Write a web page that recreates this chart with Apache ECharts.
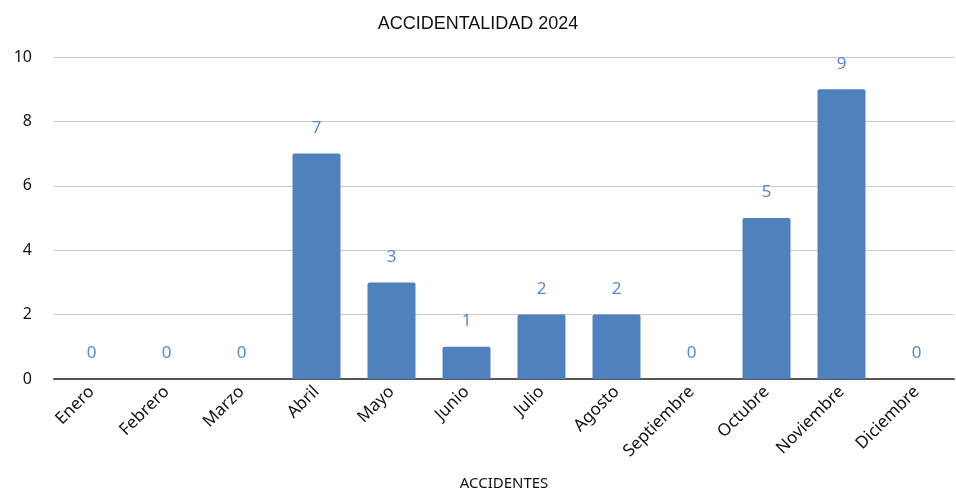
<!DOCTYPE html>
<html>
<head>
<meta charset="utf-8">
<script src="https://cdn.jsdelivr.net/npm/echarts@6/dist/echarts.min.js"></script>
<style>
  html, body { margin: 0; padding: 0; background: #fff; }
  #chart { width: 956px; height: 491px; }
</style>
</head>
<body>
<div id="chart"></div>
<script>
  const months = ['Enero', 'Febrero', 'Marzo', 'Abril', 'Mayo', 'Junio', 'Julio',
    'Agosto', 'Septiembre', 'Octubre', 'Noviembre', 'Diciembre']
  const accidents = [0, 0, 0, 7, 3, 1, 2, 2, 0, 5, 9, 0]
  const yTicks = [0, 2, 4, 6, 8, 10]

  const chart = echarts.init(document.getElementById('chart'))
  chart.setOption({
    animation: false,
    title: {
      text: 'ACCIDENTALIDAD 2024',
      left: 'center',
      top: 10,
      textStyle: {
        fontFamily: '"Liberation Sans", sans-serif',
        fontWeight: 'normal',
        fontSize: 18,
        color: '#111'
      }
    },
    grid: {
      left: 54,
      right: 2,
      top: 57,
      bottom: 112,
      outerBoundsMode: 'none'
    },
    xAxis: {
      type: 'category',
      data: months,
      name: 'ACCIDENTES',
      nameLocation: 'middle',
      nameGap: 97,
      nameTextStyle: { fontFamily: 'Noto Sans', fontSize: 15, color: '#111' },
      axisTick: { show: false },
      axisLine: { lineStyle: { color: '#555', width: 2 } },
      axisLabel: {
        rotate: 45,
        interval: 0,
        margin: 10,
        fontFamily: 'Noto Sans',
        fontSize: 17,
        color: '#111'
      }
    },
    yAxis: {
      type: 'value',
      min: yTicks[0],
      max: yTicks[yTicks.length - 1],
      interval: 2,
      axisLabel: {
        fontFamily: 'Noto Sans',
        fontSize: 16,
        color: '#111',
        margin: 22
      },
      splitLine: { lineStyle: { color: '#c8c8c8', width: 1 } }
    },
    series: [{
      type: 'bar',
      data: accidents,
      barCategoryGap: '36%',
      itemStyle: { color: '#4f81bd', borderRadius: [2, 2, 0, 0] },
      label: {
        show: true,
        position: 'top',
        distance: 17,
        fontFamily: 'Noto Sans',
        fontSize: 17,
        color: '#5a8ac6'
      }
    }]
  })
</script>
</body>
</html>
